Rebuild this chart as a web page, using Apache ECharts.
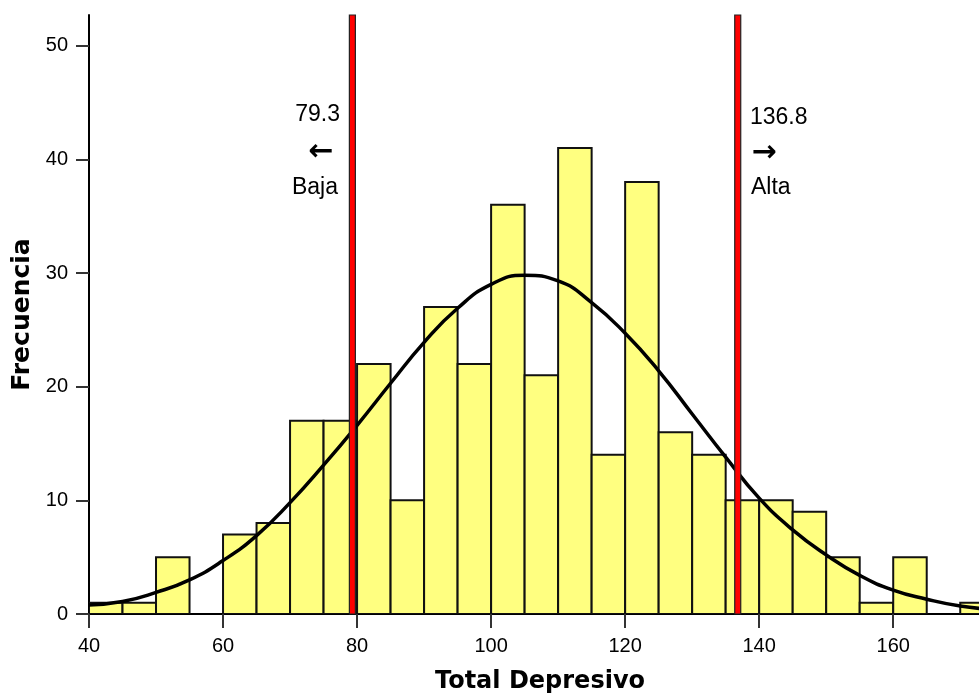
<!DOCTYPE html>
<html>
<head>
<meta charset="utf-8">
<script src="https://cdn.jsdelivr.net/npm/echarts@6/dist/echarts.min.js"></script>
<style>
html,body{margin:0;padding:0;background:#fff;}
#c{width:979px;height:695px;}
</style>
</head>
<body>
<div id="c"></div>
<script>
// Histogram bins (start of each 5-point bin) and frequencies
var binStarts = [40,45,50,55,60,65,70,75,80,85,90,95,100,105,110,115,120,125,130,135,140,145,150,155,160,165,170];
var binWidth = 5;
var counts    = [1,1,5,0,7,8,17,17,22,10,27,22,36,21,41,14,38,16,14,10,10,9,5,1,5,0,1];
// Normal curve
var curveX = [40,45,50,55,60,65,70,75,80,85,90,95,100,105,110,115,120,125,130,135,140,145,150,155,160,165,170,175];
var curveY = [0.8,1.1,1.9,3.0,4.7,6.9,9.8,13.1,16.6,20.3,23.9,26.9,29.0,29.8,29.3,27.4,24.7,21.4,17.6,13.8,10.2,7.4,5.2,3.4,2.1,1.3,0.7,0.4];
// Cut points
var cutPoints = [79.3, 136.8];
var yMax = 52.7;
var xTicks = [40,60,80,100,120,140,160];
var yTicks = [0,10,20,30,40,50];

var barData = binStarts.map(function(s,i){return [s,counts[i]];});
var lineData = curveX.map(function(x,i){return [x,curveY[i]];});

var chart = echarts.init(document.getElementById('c'));
var lblFont = 'Arial, "Liberation Sans", sans-serif';
chart.setOption({
  animation:false,
  backgroundColor:'#fff',
  grid:{left:89, top:15, right:0, bottom:81, outerBoundsMode:'none', containLabel:false},
  xAxis:[{
    type:'value', min:40, max:172.8, interval:20,
    name:'Total Depresivo', nameLocation:'middle', nameGap:56,
    nameTextStyle:{fontFamily:'"DejaVu Sans"', fontWeight:'bold', fontSize:24, color:'#000', padding:[0,0,0,12]},
    axisLine:{show:true, onZero:false, lineStyle:{color:'#000', width:2}},
    axisTick:{show:true, length:14, customValues:xTicks, lineStyle:{color:'#333', width:2}},
    axisLabel:{customValues:xTicks, margin:22, fontFamily:lblFont, fontSize:20, color:'#000'},
    splitLine:{show:false}
  },{
    type:'value', position:'top', min:40, max:172.8,
    axisLine:{show:true, lineStyle:{color:'#000', width:2}},
    axisTick:{show:false}, axisLabel:{show:false}, splitLine:{show:false}
  }],
  yAxis:{
    type:'value', min:0, max:yMax, interval:10,
    name:'Frecuencia', nameLocation:'middle', nameGap:50, nameRotate:90,
    nameTextStyle:{fontFamily:'"DejaVu Sans"', fontWeight:'bold', fontSize:25, color:'#000'},
    axisLine:{show:true, lineStyle:{color:'#000', width:2}},
    axisTick:{show:true, length:13, customValues:yTicks, lineStyle:{color:'#333', width:2}},
    axisLabel:{customValues:yTicks, margin:21, fontFamily:lblFont, fontSize:20, color:'#000'},
    splitLine:{show:false}
  },
  series:[{
    type:'custom',
    data:barData,
    clip:true,
    z:2,
    renderItem:function(params, api){
      var x0 = api.value(0), c = api.value(1);
      if (!c) return null;
      var p0 = api.coord([x0, c]);
      var p1 = api.coord([x0 + binWidth, 0]);
      return {type:'rect',
        shape:{x:p0[0], y:p0[1], width:p1[0]-p0[0], height:p1[1]-p0[1]},
        style:{fill:'#ffff80', stroke:'#111', lineWidth:2}};
    }
  },{
    type:'line', data:lineData, smooth:0.5, showSymbol:false, z:3, clip:true,
    lineStyle:{color:'#000', width:3.5}
  },{
    type:'custom',
    data:cutPoints.map(function(v){return [v];}),
    z:5,
    renderItem:function(params, api){
      var v = api.value(0);
      var top = api.coord([v, yMax]);
      var bot = api.coord([v, 0]);
      return {type:'rect',
        shape:{x:top[0]-3, y:top[1], width:6, height:bot[1]-top[1]},
        style:{fill:'#ff0000', stroke:'#222', lineWidth:1.2}};
    }
  }],
  graphic:[
    {type:'text', z:10, style:{x:340, y:115, text:'79.3', align:'right', verticalAlign:'middle', font:'23px Arial, "Liberation Sans"', fill:'#000'}},
    {type:'text', z:10, style:{x:321, y:152, text:'\u2190', align:'center', verticalAlign:'middle', font:'bold 30px "DejaVu Sans"', fill:'#000'}},
    {type:'text', z:10, style:{x:338, y:188, text:'Baja', align:'right', verticalAlign:'middle', font:'23px Arial, "Liberation Sans"', fill:'#000'}},
    {type:'text', z:10, style:{x:750, y:118, text:'136.8', align:'left', verticalAlign:'middle', font:'23px Arial, "Liberation Sans"', fill:'#000'}},
    {type:'text', z:10, style:{x:764, y:153, text:'\u2192', align:'center', verticalAlign:'middle', font:'bold 30px "DejaVu Sans"', fill:'#000'}},
    {type:'text', z:10, style:{x:751, y:188, text:'Alta', align:'left', verticalAlign:'middle', font:'23px Arial, "Liberation Sans"', fill:'#000'}}
  ]
});
</script>
</body>
</html>
